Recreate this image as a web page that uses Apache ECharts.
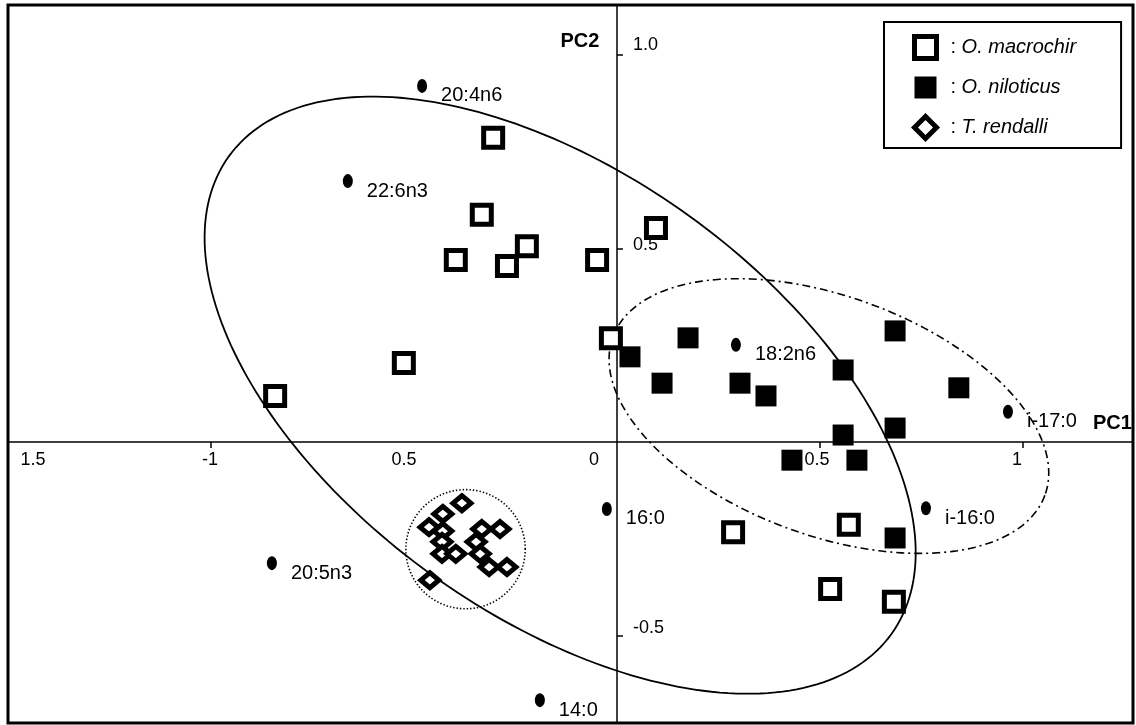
<!DOCTYPE html>
<html><head><meta charset="utf-8">
<script src="https://cdn.jsdelivr.net/npm/echarts@6/dist/echarts.min.js"></script>
<style>html,body{margin:0;padding:0;background:#fff}#c{width:1136px;height:725px}</style>
</head><body><div id="c"></div>
<script>
// ---- data (PC1, PC2 scores) ----
const macrochirX = [-0.305,-0.333,-0.222,-0.397,-0.271,-0.049,0.096,-0.015,-0.525,-0.842,0.571,0.286,0.525,0.682];
const macrochirY = [0.786,0.587,0.506,0.470,0.455,0.470,0.553,0.268,0.204,0.119,-0.214,-0.233,-0.380,-0.413];
const niloticusX = [0.032,0.175,0.111,0.303,0.367,0.557,0.685,0.842,0.685,0.557,0.431,0.591,0.685];
const niloticusY = [0.220,0.269,0.152,0.152,0.119,0.186,0.287,0.140,0.036,0.018,-0.047,-0.047,-0.248];
const rendalliX = [-0.382,-0.429,-0.463,-0.429,-0.333,-0.288,-0.431,-0.347,-0.431,-0.397,-0.337,-0.315,-0.271,-0.461];
const rendalliY = [-0.158,-0.186,-0.220,-0.230,-0.225,-0.225,-0.258,-0.258,-0.289,-0.289,-0.289,-0.323,-0.323,-0.357];
const loadingNames = ['20:4n6','22:6n3','18:2n6','i-17:0','16:0','i-16:0','20:5n3','14:0'];
const loadingX = [-0.480,-0.663,0.293,0.963,-0.025,0.761,-0.850,-0.190];
const loadingY = [0.920,0.674,0.251,0.078,-0.173,-0.171,-0.313,-0.667];
// ellipses: centre and two conjugate semi-axis vectors (data units)
const ellipseCx = [-0.140, 0.522, -0.373];
const ellipseCy = [0.121, 0.067, -0.277];
const ellipseA = [[0.816,-0.617],[0.532,-0.2045],[0.147,0]];
const ellipseB = [[-0.318,-0.463],[-0.101,-0.290],[0,0.154]];
// axis ranges, ticks and labels
const xMin = -1.5, xMax = 1.271, yMin = -0.726, yMax = 1.129;
const xTickValues = [-1, 0.5, 1];
const xLabelValues = [-1.5, -1, -0.5, 0, 0.5, 1];
const xLabelTexts = ['1.5', '-1', '0.5', '0', '0.5', '1'];
const yTickValues = [1.0, 0.5, -0.5];
const yLabelValues = [1.0, 0.5, -0.5];
const yLabelTexts = ['1.0', '0.5', '-0.5'];
const speciesNames = ['O. macrochir', 'O. niloticus', 'T. rendalli'];

// ---- styling ----
const FONT = 'Liberation Sans, Arial, Helvetica, sans-serif';
const xLabelShift = [25, -1, -10, -23, -3, -6];     // horizontal nudge (px)
const yLabelShift = [-10, -3.5, -7.5];              // vertical nudge (px)
const xRich = {}, yRich = {};
xLabelShift.forEach((s, i) => { xRich['x' + i] = {fontSize: 18, fontFamily: FONT, color: '#000', padding: [0, Math.max(0, -2 * s), 0, Math.max(0, 2 * s)]}; });
yLabelShift.forEach((s, i) => { yRich['y' + i] = {fontSize: 18, fontFamily: FONT, color: '#000', padding: [Math.max(0, 2 * s), 0, Math.max(0, -2 * s), 0]}; });
const ellipseStyles = [
  {lineWidth: 1.8, lineDash: null},
  {lineWidth: 1.6, lineDash: [8, 4, 2, 4]},
  {lineWidth: 1.6, lineDash: [1.4, 2]}
];

const pairs = (xs, ys) => xs.map((x, i) => [x, ys[i]]);
const chart = echarts.init(document.getElementById('c'), null, {renderer: 'canvas'});
const axisLineStyle = {color: '#000', width: 1.5};

chart.setOption({
  animation: false,
  backgroundColor: '#fff',
  grid: {left: 8, right: 3, top: 5, bottom: 2, show: true, borderColor: '#000', borderWidth: 3, backgroundColor: '#fff', outerBoundsMode: 'none', containLabel: false},
  xAxis: {
    type: 'value', min: xMin, max: xMax, position: 'bottom',
    axisLine: {onZero: false, lineStyle: axisLineStyle},
    splitLine: {show: false},
    axisTick: {customValues: xTickValues, length: 6, lineStyle: axisLineStyle},
    axisLabel: {
      customValues: xLabelValues, margin: 9, color: '#000', fontSize: 18, fontFamily: FONT,
      hideOverlap: false, showMinLabel: true, showMaxLabel: true,
      formatter: (v) => { const k = xLabelValues.findIndex(t => Math.abs(t - v) < 1e-6); return '{x' + k + '|' + xLabelTexts[k] + '}'; },
      rich: xRich
    },
    name: 'PC1', nameLocation: 'end', nameGap: -40,
    nameTextStyle: {fontSize: 20, fontWeight: 'bold', fontFamily: FONT, color: '#000', verticalAlign: 'bottom', padding: [0, 0, 9, 0]}
  },
  yAxis: {
    type: 'value', min: yMin, max: yMax, position: 'left',
    axisLine: {onZero: false, lineStyle: axisLineStyle},
    splitLine: {show: false},
    axisTick: {customValues: yTickValues, inside: true, length: 6, lineStyle: axisLineStyle},
    axisLabel: {
      customValues: yLabelValues, inside: true, margin: 16, color: '#000', fontSize: 18, fontFamily: FONT,
      hideOverlap: false, showMinLabel: true, showMaxLabel: true,
      formatter: (v) => { const k = yLabelValues.findIndex(t => Math.abs(t - v) < 1e-6); return '{y' + k + '|' + yLabelTexts[k] + '}'; },
      rich: yRich
    },
    name: 'PC2', nameLocation: 'end', nameGap: -46,
    nameTextStyle: {fontSize: 20, fontWeight: 'bold', fontFamily: FONT, color: '#000', padding: [0, 74, 0, 0]}
  },
  legend: {
    orient: 'vertical', left: 884, top: 22,
    padding: [12, 45, 7, 28], itemGap: 15.5, itemWidth: 22, itemHeight: 22,
    borderColor: '#000', borderWidth: 2, backgroundColor: '#fff',
    data: [
      {name: speciesNames[0], icon: 'rect', itemStyle: {color: '#fff', borderColor: '#000', borderWidth: 5, opacity: 1}},
      {name: speciesNames[1], icon: 'rect', itemStyle: {color: '#000', borderWidth: 0, opacity: 1}},
      {name: speciesNames[2], icon: 'diamond', itemStyle: {color: '#fff', borderColor: '#000', borderWidth: 5, opacity: 1}}
    ],
    formatter: (n) => ': {i|' + n + '}',
    textStyle: {fontSize: 20, fontFamily: FONT, color: '#000', padding: [0, 0, 0, 9], rich: {i: {fontSize: 20, fontStyle: 'italic', fontFamily: FONT, color: '#000'}}},
    selectedMode: false
  },
  series: [
    {
      type: 'custom', name: 'ellipses', z: 1, silent: true,
      data: pairs(ellipseCx, ellipseCy),
      encode: {x: 0, y: 1},
      renderItem: (params, api) => {
        const i = params.dataIndex;
        const pts = [];
        for (let k = 0; k <= 240; k++) {
          const t = k / 240 * 2 * Math.PI, c = Math.cos(t), s = Math.sin(t);
          pts.push(api.coord([ellipseCx[i] + ellipseA[i][0] * c + ellipseB[i][0] * s,
                              ellipseCy[i] + ellipseA[i][1] * c + ellipseB[i][1] * s]));
        }
        return {type: 'polyline', shape: {points: pts},
          style: {fill: null, stroke: '#000', lineWidth: ellipseStyles[i].lineWidth, lineDash: ellipseStyles[i].lineDash}};
      }
    },
    {
      type: 'scatter', name: 'loadings', z: 3,
      symbol: 'path://M5 0A5 7 0 1 1 5 14A5 7 0 1 1 5 0Z', symbolSize: [10, 14],
      itemStyle: {color: '#000', opacity: 1},
      data: loadingNames.map((n, i) => ({name: n, value: [loadingX[i], loadingY[i]]})),
      label: {show: true, position: 'right', distance: 14, offset: [0, 10], formatter: '{b}', fontSize: 20, fontFamily: FONT, color: '#000', opacity: 1}
    },
    {
      type: 'scatter', name: speciesNames[0], z: 4,
      symbol: 'rect', symbolSize: 19,
      itemStyle: {color: '#fff', borderColor: '#000', borderWidth: 5, opacity: 1},
      data: pairs(macrochirX, macrochirY)
    },
    {
      type: 'scatter', name: speciesNames[1], z: 4,
      symbol: 'rect', symbolSize: 21,
      itemStyle: {color: '#000', opacity: 1},
      data: pairs(niloticusX, niloticusY)
    },
    {
      type: 'scatter', name: speciesNames[2], z: 4,
      symbol: 'diamond', symbolSize: [18, 15],
      itemStyle: {color: '#fff', borderColor: '#000', borderWidth: 5, opacity: 1},
      data: pairs(rendalliX, rendalliY)
    }
  ]
});

// place the two axes through the origin, using the chart's own scales
const origin = chart.convertToPixel({gridIndex: 0}, [0, 0]);
const corner = chart.convertToPixel({gridIndex: 0}, [xMin, yMin]);
chart.setOption({
  xAxis: {offset: origin[1] - corner[1]},
  yAxis: {offset: corner[0] - origin[0]}
});
</script>
</body></html>
